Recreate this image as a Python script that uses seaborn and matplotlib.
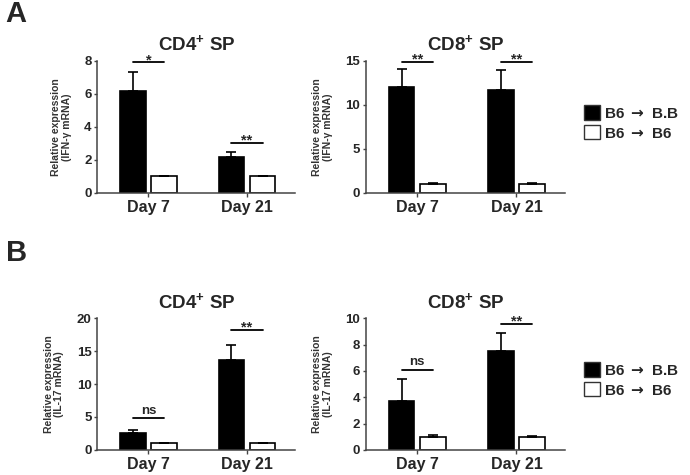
import numpy as np
import pandas as pd
import matplotlib.pyplot as plt
import seaborn as sns
from matplotlib.patches import Patch

sns.set_style("ticks")
plt.rcParams['font.family'] = ['Liberation Sans', 'DejaVu Sans']
plt.rcParams['font.weight'] = 'bold'
plt.rcParams['axes.labelweight'] = 'bold'
plt.rcParams['mathtext.fontset'] = 'custom'
plt.rcParams['mathtext.rm'] = 'Liberation Sans:bold'
plt.rcParams['mathtext.bf'] = 'Liberation Sans:bold'
plt.rcParams['mathtext.sf'] = 'DejaVu Sans:bold'

days = ['Day 7', 'Day 21']
groups = ['B6 $\\mathsf{\\rightarrow}$ B.B', 'B6 $\\mathsf{\\rightarrow}$ B6']

# means and upper SEM
ifn_cd4_bb = [6.2, 2.15]
ifn_cd4_bb_err = [1.1, 0.35]
ifn_cd4_b6 = [1.0, 1.0]
ifn_cd4_b6_err = [0.05, 0.05]

ifn_cd8_bb = [12.0, 11.7]
ifn_cd8_bb_err = [2.1, 2.3]
ifn_cd8_b6 = [1.0, 1.0]
ifn_cd8_b6_err = [0.08, 0.08]

il17_cd4_bb = [2.6, 13.7]
il17_cd4_bb_err = [0.4, 2.2]
il17_cd4_b6 = [1.0, 1.0]
il17_cd4_b6_err = [0.05, 0.05]

il17_cd8_bb = [3.7, 7.5]
il17_cd8_bb_err = [1.7, 1.4]
il17_cd8_b6 = [1.0, 1.0]
il17_cd8_b6_err = [0.1, 0.05]

# significance labels and bar heights
ifn_cd4_sig = ['*', '**']
ifn_cd4_sig_y = [7.9, 3.0]
ifn_cd8_sig = ['**', '**']
ifn_cd8_sig_y = [14.9, 14.9]
il17_cd4_sig = ['ns', '**']
il17_cd4_sig_y = [4.8, 18.2]
il17_cd8_sig = ['ns', '**']
il17_cd8_sig_y = [6.1, 9.6]

panels = [
    ('4', 'IFN-γ', ifn_cd4_bb, ifn_cd4_bb_err, ifn_cd4_b6, ifn_cd4_b6_err, ifn_cd4_sig, ifn_cd4_sig_y, [0, 2, 4, 6, 8]),
    ('8', 'IFN-γ', ifn_cd8_bb, ifn_cd8_bb_err, ifn_cd8_b6, ifn_cd8_b6_err, ifn_cd8_sig, ifn_cd8_sig_y, [0, 5, 10, 15]),
    ('4', 'IL-17', il17_cd4_bb, il17_cd4_bb_err, il17_cd4_b6, il17_cd4_b6_err, il17_cd4_sig, il17_cd4_sig_y, [0, 5, 10, 15, 20]),
    ('8', 'IL-17', il17_cd8_bb, il17_cd8_bb_err, il17_cd8_b6, il17_cd8_b6_err, il17_cd8_sig, il17_cd8_sig_y, [0, 2, 4, 6, 8, 10]),
]

fig = plt.figure(figsize=(6.9, 4.75), dpi=100)
positions = [
    [0.141, 0.594, 0.287, 0.278],
    [0.530, 0.594, 0.289, 0.278],
    [0.141, 0.053, 0.287, 0.277],
    [0.530, 0.053, 0.289, 0.277],
]

for pos, (cell, gene, bb, bb_err, b6, b6_err, sig, sig_y, yticks) in zip(positions, panels):
    ax = fig.add_axes(pos)
    df = pd.DataFrame({
        'day': days * 2,
        'group': [groups[0]] * 2 + [groups[1]] * 2,
        'value': bb + b6,
    })
    sns.barplot(data=df, x='day', y='value', hue='group', order=days, hue_order=groups,
                palette=['black', 'white'], edgecolor='black', linewidth=1.2,
                width=0.63, gap=0.17, errorbar=None, legend=False, ax=ax)
    # upper error bars only
    centers = []
    for cont, errs in zip(ax.containers, [bb_err, b6_err]):
        xs = [b.get_x() + b.get_width() / 2 for b in cont]
        ys = [b.get_height() for b in cont]
        centers.append(xs)
        ax.errorbar(xs, ys, yerr=[np.zeros(len(errs)), errs], fmt='none',
                    ecolor='black', elinewidth=1.2, capsize=3.5, capthick=1.2, zorder=1)
    for i in range(len(days)):
        x0, x1 = centers[0][i], centers[1][i]
        ax.plot([x0, x1], [sig_y[i], sig_y[i]], color='black', lw=1.3)
        if sig[i] == 'ns':
            ax.text((x0 + x1) / 2, sig_y[i] + yticks[-1] * 0.01, 'ns', ha='center', va='bottom', fontsize=9.5)
        else:
            ax.text((x0 + x1) / 2, sig_y[i] - yticks[-1] * 0.035, sig[i], ha='center', va='bottom', fontsize=10.5)
    ax.set_xlim(-0.518, 1.49)
    ax.set_ylim(0, yticks[-1])
    ax.set_yticks(yticks)
    ax.set_xlabel('')
    ax.set_ylabel('Relative expression\n(' + gene + ' mRNA)', fontsize=7.5, labelpad=9,
                  color='#333333', linespacing=1.1)
    ax.set_title('CD' + cell + '$^{+}$ SP', fontsize=13.5, fontweight='bold', pad=7)
    ax.tick_params(axis='y', labelsize=9.5, length=2.5, width=1, pad=1.5, color='#444444')
    ax.tick_params(axis='x', labelsize=11.5, length=3, width=1, pad=2, color='#444444')
    for lbl in ax.get_xticklabels() + ax.get_yticklabels():
        lbl.set_fontweight('bold')
    sns.despine(ax=ax)
    for sp in ['left', 'bottom']:
        ax.spines[sp].set_color('#444444')
        ax.spines[sp].set_linewidth(1.1)

handles = [Patch(facecolor='black', edgecolor='#333333', linewidth=1),
           Patch(facecolor='white', edgecolor='#333333', linewidth=1)]
for ly in [0.741, 0.2]:
    fig.legend(handles, groups, loc='center left', bbox_to_anchor=(0.846, ly), frameon=False,
               handlelength=1.05, handleheight=1.05, handletextpad=0.3, labelspacing=0.3,
               borderaxespad=0, borderpad=0, prop={'size': 11, 'weight': 'bold'})

fig.text(0.008, 1.0, 'A', fontsize=21, fontweight='bold', va='top', ha='left')
fig.text(0.008, 0.467, 'B', fontsize=21, fontweight='bold', va='center', ha='left')

fig.savefig('out.png', dpi=100)
